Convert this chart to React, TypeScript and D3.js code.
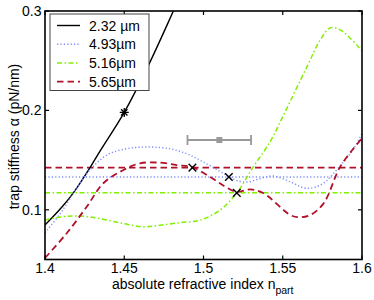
import React, { useRef, useEffect } from 'react';
import * as d3 from 'd3';

// series: refractive index vs. trap stiffness (pN/nm)
const blackN = [1.4, 1.41, 1.4179, 1.4284, 1.4347, 1.45, 1.465, 1.481, 1.49];
const blackK = [0.0847, 0.1015, 0.117, 0.1424, 0.159, 0.198, 0.2445, 0.3, 0.332];

const blueN = [1.4, 1.41, 1.42, 1.43, 1.44, 1.45, 1.46, 1.47, 1.48, 1.49, 1.5, 1.51, 1.516, 1.522, 1.528, 1.535, 1.544, 1.555, 1.565, 1.575, 1.585, 1.595, 1.6];
const blueK = [0.077, 0.097, 0.122, 0.143, 0.156, 0.161, 0.163, 0.163, 0.161, 0.156, 0.148, 0.139, 0.1333, 0.129, 0.128, 0.131, 0.134, 0.128, 0.1216, 0.126, 0.142, 0.162, 0.177];

const greenN = [1.4, 1.411, 1.422, 1.435, 1.45, 1.462, 1.4726, 1.485, 1.498, 1.5105, 1.521, 1.5315, 1.542, 1.5495, 1.5653, 1.5737, 1.58, 1.5863, 1.6];
const greenK = [0.0897, 0.093, 0.0938, 0.091, 0.086, 0.083, 0.0845, 0.087, 0.0897, 0.0998, 0.117, 0.1434, 0.1685, 0.192, 0.244, 0.271, 0.283, 0.281, 0.26];

const redN = [1.4, 1.4137, 1.4263, 1.4368, 1.4495, 1.46, 1.4726, 1.483, 1.493, 1.5042, 1.513, 1.521, 1.5295, 1.5379, 1.5547, 1.56, 1.5674, 1.5758, 1.5863, 1.6];
const redK = [0.0515, 0.0764, 0.103, 0.1267, 0.14, 0.1468, 0.1474, 0.145, 0.1428, 0.133, 0.124, 0.118, 0.1206, 0.1166, 0.0948, 0.0925, 0.0948, 0.1065, 0.1434, 0.172];

const blueLevel = 0.133;
const greenLevel = 0.1172;
const redLevel = 0.1424;

const starPoint = [1.45, 0.198];
const crossN = [1.493, 1.516, 1.521];
const crossK = [0.1424, 0.133, 0.117];

const errMid = [1.51, 0.1702];
const errSpan = [1.4899, 1.53];

const legendLabels = ['2.32 µm', '4.93µm', '5.16µm', '5.65µm'];
const xTicks = [1.4, 1.45, 1.5, 1.55, 1.6];
const yTicks = [0.1, 0.2, 0.3];

const W = 374, H = 300;
const margin = { left: 45, right: 12, top: 11, bottom: 40.5 };

const App = () => {
    const svgRef = useRef<SVGSVGElement | null>(null);

    useEffect(() => {
        if (!svgRef.current) return;
        const svg = d3.select(svgRef.current);
        svg.selectAll('*').remove();

        const x = d3.scaleLinear().domain([1.4, 1.6]).range([margin.left, W - margin.right]);
        const y = d3.scaleLinear().domain([0.05, 0.3]).range([H - margin.bottom, margin.top]);
        const font = 'Liberation Sans, Arial, sans-serif';
        const fs = 14;

        svg.append('rect').attr('width', W).attr('height', H).attr('fill', '#fff');

        svg.append('defs').append('clipPath').attr('id', 'plotclip')
            .append('rect')
            .attr('x', x(1.4)).attr('y', y(0.3))
            .attr('width', x(1.6) - x(1.4)).attr('height', y(0.05) - y(0.3));

        const plot = svg.append('g').attr('clip-path', 'url(#plotclip)');

        const line = d3.line<[number, number]>()
            .x(d => x(d[0]))
            .y(d => y(d[1]))
            .curve(d3.curveCatmullRom.alpha(0.5));

        const zipPts = (ns: number[], ks: number[]) => ns.map((n, i) => [n, ks[i]] as [number, number]);

        const blue = '#7a8cff';
        const green = '#80f000';
        const red = '#b0102a';
        const blueDash = '1.2,2.2';
        const greenDash = '5,2.5,1.5,2.5';
        const redDash = '6.5,4';

        // horizontal reference levels
        const levels = [
            { v: redLevel, c: red, dash: redDash, w: 1.8 },
            { v: blueLevel, c: blue, dash: blueDash, w: 1.4 },
            { v: greenLevel, c: green, dash: greenDash, w: 1.5 },
        ];
        levels.forEach(l => {
            plot.append('line')
                .attr('x1', x(1.4)).attr('x2', x(1.6))
                .attr('y1', y(l.v)).attr('y2', y(l.v))
                .attr('stroke', l.c).attr('stroke-width', l.w)
                .attr('stroke-dasharray', l.dash);
        });

        const series = [
            { pts: zipPts(blackN, blackK), c: '#000', dash: null, w: 1.4 },
            { pts: zipPts(blueN, blueK), c: blue, dash: blueDash, w: 1.4 },
            { pts: zipPts(greenN, greenK), c: green, dash: greenDash, w: 1.5 },
            { pts: zipPts(redN, redK), c: red, dash: redDash, w: 1.8 },
        ];
        series.forEach(s => {
            const p = plot.append('path')
                .datum(s.pts)
                .attr('fill', 'none')
                .attr('stroke', s.c)
                .attr('stroke-width', s.w)
                .attr('d', line);
            if (s.dash) p.attr('stroke-dasharray', s.dash);
        });

        // error bar
        const eg = svg.append('g').attr('stroke', '#999').attr('stroke-width', 1.8);
        eg.append('line')
            .attr('x1', x(errSpan[0])).attr('x2', x(errSpan[1]))
            .attr('y1', y(errMid[1])).attr('y2', y(errMid[1]));
        errSpan.forEach(n => {
            eg.append('line')
                .attr('x1', x(n)).attr('x2', x(n))
                .attr('y1', y(errMid[1]) - 5).attr('y2', y(errMid[1]) + 5);
        });
        svg.append('rect')
            .attr('x', x(errMid[0]) - 3).attr('y', y(errMid[1]) - 3)
            .attr('width', 6).attr('height', 6)
            .attr('fill', '#999');

        // star marker
        const sx = x(starPoint[0]), sy = y(starPoint[1]);
        const star = svg.append('g').attr('stroke', '#000').attr('stroke-width', 1.3);
        [0, 45, 90, 135].forEach(a => {
            const r = 4.5, rad = (a * Math.PI) / 180;
            star.append('line')
                .attr('x1', sx - r * Math.cos(rad)).attr('y1', sy - r * Math.sin(rad))
                .attr('x2', sx + r * Math.cos(rad)).attr('y2', sy + r * Math.sin(rad));
        });

        // cross markers
        crossN.forEach((n, i) => {
            const cx = x(n), cy = y(crossK[i]), r = 3.8;
            const g = svg.append('g').attr('stroke', '#000').attr('stroke-width', 1.4);
            g.append('line').attr('x1', cx - r).attr('y1', cy - r).attr('x2', cx + r).attr('y2', cy + r);
            g.append('line').attr('x1', cx - r).attr('y1', cy + r).attr('x2', cx + r).attr('y2', cy - r);
        });

        // axes box + inward ticks
        const x0 = x(1.4), x1 = x(1.6), y0 = y(0.05), y1 = y(0.3);
        svg.append('rect')
            .attr('x', x0).attr('y', y1).attr('width', x1 - x0).attr('height', y0 - y1)
            .attr('fill', 'none').attr('stroke', '#000').attr('stroke-width', 1.6);
        const tk = 4;
        const tg = svg.append('g').attr('stroke', '#000').attr('stroke-width', 1.2);
        xTicks.forEach(t => {
            tg.append('line').attr('x1', x(t)).attr('x2', x(t)).attr('y1', y0).attr('y2', y0 - tk);
            tg.append('line').attr('x1', x(t)).attr('x2', x(t)).attr('y1', y1).attr('y2', y1 + tk);
        });
        yTicks.forEach(t => {
            tg.append('line').attr('x1', x0).attr('x2', x0 + tk).attr('y1', y(t)).attr('y2', y(t));
            tg.append('line').attr('x1', x1).attr('x2', x1 - tk).attr('y1', y(t)).attr('y2', y(t));
        });

        // tick labels
        xTicks.forEach(t => {
            svg.append('text')
                .attr('x', x(t)).attr('y', 273)
                .attr('text-anchor', 'middle')
                .attr('font-family', font).attr('font-size', fs)
                .text(String(t));
        });
        yTicks.forEach(t => {
            svg.append('text')
                .attr('x', x0 - 3.5).attr('y', y(t) + 5)
                .attr('text-anchor', 'end')
                .attr('font-family', font).attr('font-size', fs)
                .text(String(t));
        });

        // axis titles
        const xl = svg.append('text')
            .attr('x', 112).attr('y', 289)
            .attr('font-family', font).attr('font-size', fs);
        xl.append('tspan').text('absolute refractive index n');
        xl.append('tspan').attr('font-size', 10.5).attr('dy', 5).text('part');

        svg.append('text')
            .attr('transform', `translate(19, 136.5) rotate(-90)`)
            .attr('text-anchor', 'middle')
            .attr('font-family', font).attr('font-size', fs)
            .text('trap stiffness α (pN/nm)');

        // legend
        const lg = svg.append('g');
        lg.append('rect')
            .attr('x', 50).attr('y', 14).attr('width', 99).attr('height', 76.5)
            .attr('fill', '#fff').attr('stroke', '#444').attr('stroke-width', 1);
        legendLabels.forEach((lab, i) => {
            const ly = 25.5 + i * 18.7;
            const s = series[i];
            const l = lg.append('line')
                .attr('x1', 57).attr('x2', 80).attr('y1', ly).attr('y2', ly)
                .attr('stroke', s.c).attr('stroke-width', s.w);
            if (s.dash) l.attr('stroke-dasharray', s.dash);
            lg.append('text')
                .attr('x', 89).attr('y', ly + 5)
                .attr('font-family', font).attr('font-size', fs)
                .text(lab);
        });
    }, []);

    return (
        <svg
            ref={svgRef}
            width={W}
            height={H}
            style={{ position: 'absolute', left: 0, top: 0, display: 'block' }}
        />
    );
};

export default App;
